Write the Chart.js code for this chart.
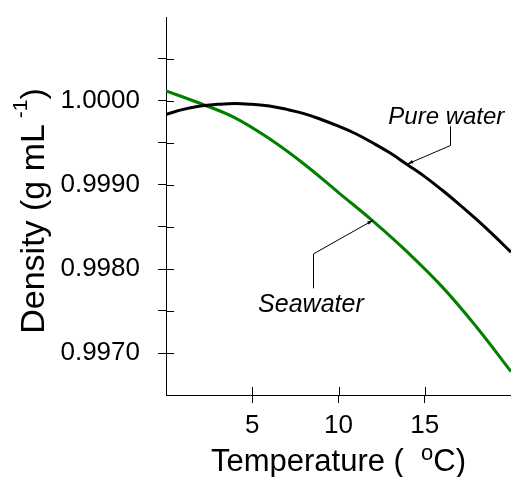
<!DOCTYPE html>
<html>
<head>
<meta charset="utf-8">
<script src="https://cdn.jsdelivr.net/npm/chart.js@4.4.0/dist/chart.umd.min.js"></script>
<style>
  html, body { margin: 0; padding: 0; background: #fff; }
  #wrap { width: 511px; height: 477px; }
</style>
</head>
<body>
<div id="wrap"><canvas id="densityChart"></canvas></div>
<script>
// temperature (deg C) and density (g/mL)
const pureTemps = [0, 1, 2, 3, 4, 5, 6, 7, 8, 9, 10, 11, 12, 13, 14, 15, 16, 17, 18, 19, 20];
const pureWater = [0.99984, 0.99990, 0.99994, 0.99996, 0.99997, 0.99996, 0.99994, 0.99990, 0.99985, 0.99978,
  0.99970, 0.99961, 0.99950, 0.99938, 0.99924, 0.99910, 0.99894, 0.99877, 0.99859, 0.99840, 0.99820];
const seaTemps = [0, 2, 4, 6, 8, 10, 12, 14, 16, 18, 20];
const seawater = [1.00012, 0.99997, 0.99980, 0.99955, 0.99925, 0.99891, 0.99857, 0.99820, 0.99779, 0.99731, 0.99678];
const xTicks = [5, 10, 15];
const yTicks = [0.9970, 0.9975, 0.9980, 0.9985, 0.9990, 0.9995, 1.0000, 1.0005];
const yLabels = ["0.9970", "0.9980", "0.9990", "1.0000"];

const FONT = '"Liberation Sans", Arial, sans-serif';

function arrow(ctx, x0, y0, x1, y1) {
  ctx.beginPath();
  ctx.moveTo(x0, y0);
  ctx.lineTo(x1, y1);
  ctx.stroke();
  const a = Math.atan2(y1 - y0, x1 - x0);
  ctx.beginPath();
  ctx.moveTo(x1, y1);
  ctx.lineTo(x1 - 6 * Math.cos(a - 0.3), y1 - 6 * Math.sin(a - 0.3));
  ctx.lineTo(x1 - 6 * Math.cos(a + 0.3), y1 - 6 * Math.sin(a + 0.3));
  ctx.closePath();
  ctx.fill();
}

// draw text pieces one after another, some raised as superscripts
function drawParts(ctx, parts, x, y) {
  parts.forEach(p => {
    ctx.font = p.size + "px " + FONT;
    ctx.fillText(p.text, x, y - (p.rise || 0));
    x += ctx.measureText(p.text).width;
  });
}

function partsWidth(ctx, parts) {
  let w = 0;
  parts.forEach(p => { ctx.font = p.size + "px " + FONT; w += ctx.measureText(p.text).width; });
  return w;
}

const extras = {
  id: "extras",
  afterDraw(chart) {
    const { ctx, scales: { x, y } } = chart;
    ctx.save();
    ctx.strokeStyle = "#000";
    ctx.fillStyle = "#000";
    ctx.lineWidth = 1;

    // inner half of the crossing tick marks
    yTicks.forEach(v => {
      const py = Math.round(y.getPixelForValue(v)) + 0.5;
      ctx.beginPath();
      ctx.moveTo(x.left, py);
      ctx.lineTo(x.left + 8, py);
      ctx.stroke();
    });
    xTicks.forEach(v => {
      const px = Math.round(x.getPixelForValue(v)) + 0.5;
      ctx.beginPath();
      ctx.moveTo(px, y.bottom);
      ctx.lineTo(px, y.bottom - 8);
      ctx.stroke();
    });

    // curve labels with leader lines
    ctx.textAlign = "center";
    ctx.textBaseline = "alphabetic";
    ctx.font = "italic 24px " + FONT;
    ctx.fillText("Pure water", x.getPixelForValue(16.25), y.getPixelForValue(0.99973));
    ctx.font = "italic 25px " + FONT;
    ctx.fillText("Seawater", x.getPixelForValue(8.4), y.getPixelForValue(0.99749));

    let vx = Math.round(x.getPixelForValue(16.45)) + 0.5;
    ctx.beginPath();
    ctx.moveTo(vx, y.getPixelForValue(0.99970));
    ctx.lineTo(vx, y.getPixelForValue(0.99947));
    ctx.stroke();
    arrow(ctx, vx, y.getPixelForValue(0.99947), x.getPixelForValue(14), y.getPixelForValue(0.99925));

    vx = Math.round(x.getPixelForValue(8.55)) + 0.5;
    ctx.beginPath();
    ctx.moveTo(vx, y.getPixelForValue(0.99777));
    ctx.lineTo(vx, y.getPixelForValue(0.99818));
    ctx.stroke();
    arrow(ctx, vx, y.getPixelForValue(0.99818), x.getPixelForValue(12), y.getPixelForValue(0.99858));

    // axis titles (with superscripts)
    ctx.textAlign = "left";
    const xParts = [
      { text: "Temperature (  ", size: 31 },
      { text: "o", size: 22, rise: 11 },
      { text: "C)", size: 31 }
    ];
    drawParts(ctx, xParts, (x.left + x.right) / 2 - partsWidth(ctx, xParts) / 2, 471);

    const yParts = [
      { text: "Density (g mL", size: 34 },
      { text: " -1", size: 21, rise: 17 },
      { text: ")", size: 34 }
    ];
    const w = partsWidth(ctx, yParts);
    ctx.translate(44, (y.top + y.bottom) / 2 + 5);
    ctx.rotate(-Math.PI / 2);
    drawParts(ctx, yParts, -w / 2, 0);
    ctx.restore();
  }
};

new Chart(document.getElementById("densityChart"), {
  type: "scatter",
  data: {
    datasets: [
      {
        label: "Pure water",
        data: pureTemps.map((t, i) => ({ x: t, y: pureWater[i] })),
        showLine: true,
        borderColor: "#000000",
        borderWidth: 3,
        pointRadius: 0,
        tension: 0.4
      },
      {
        label: "Seawater",
        data: seaTemps.map((t, i) => ({ x: t, y: seawater[i] })),
        showLine: true,
        borderColor: "#008000",
        borderWidth: 3,
        pointRadius: 0,
        tension: 0.4
      }
    ]
  },
  options: {
    responsive: true,
    maintainAspectRatio: false,
    animation: false,
    layout: { padding: { top: 17, right: 0, left: 0, bottom: 0 } },
    plugins: {
      legend: { display: false },
      tooltip: { enabled: false }
    },
    scales: {
      x: {
        type: "linear",
        min: 0,
        max: 20,
        afterBuildTicks: scale => { scale.ticks = xTicks.map(v => ({ value: v })); },
        afterFit: scale => {
          scale.height = 82;
          scale.paddingLeft = 0;
          scale.paddingRight = 0;
        },
        ticks: {
          color: "#000",
          padding: 7,
          font: { family: FONT, size: 26 }
        },
        grid: { drawOnChartArea: false, drawTicks: true, tickLength: 8, color: "#000" },
        border: { display: true, color: "#000", width: 1 }
      },
      y: {
        min: 0.9965,
        max: 1.0010,
        afterBuildTicks: scale => { scale.ticks = yTicks.map(v => ({ value: v })); },
        afterFit: scale => {
          scale.width = 166;
          scale.paddingTop = 0;
          scale.paddingBottom = 0;
        },
        ticks: {
          color: "#000",
          padding: 18,
          font: { family: FONT, size: 26 },
          callback: v => {
            const s = v.toFixed(4);
            return yLabels.includes(s) ? s : "";
          }
        },
        grid: { drawOnChartArea: false, drawTicks: true, tickLength: 8, color: "#000" },
        border: { display: true, color: "#000", width: 1 }
      }
    }
  },
  plugins: [extras]
});
</script>
</body>
</html>
